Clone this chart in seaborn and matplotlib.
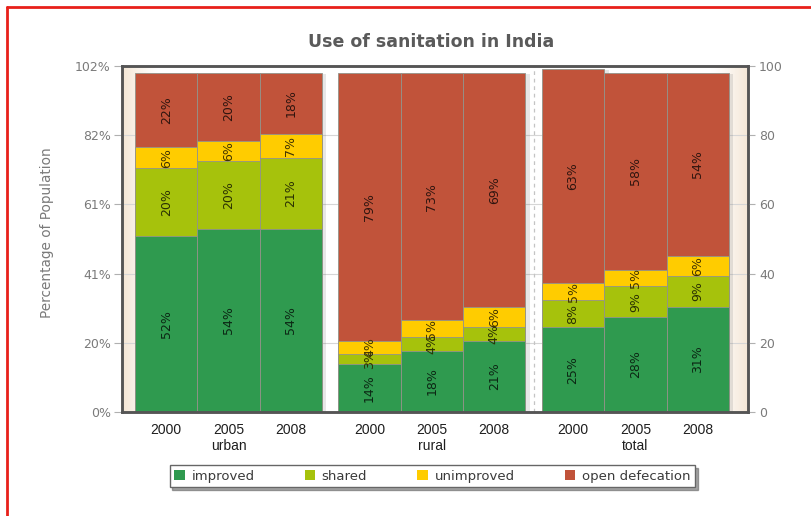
import numpy as np
import pandas as pd
import matplotlib
matplotlib.use("Agg")
import matplotlib.pyplot as plt
from matplotlib.patches import Patch
from matplotlib.lines import Line2D
from matplotlib.colors import to_rgb
import seaborn as sns

# ---- data -------------------------------------------------------------
groups = ["urban", "rural", "total"]
years = ["2000", "2005", "2008"]
improved = [52, 54, 54, 14, 18, 21, 25, 28, 31]
shared = [20, 20, 21, 3, 4, 4, 8, 9, 9]
unimproved = [6, 6, 7, 4, 5, 6, 5, 5, 6]
open_defecation = [22, 20, 18, 79, 73, 69, 63, 58, 54]

series_names = ["improved", "shared", "unimproved", "open defecation"]
series_colors = ["#2f9a4f", "#a6c20c", "#ffcc00", "#c1533a"]

left_ticks = [0, 20.4, 40.8, 61.2, 81.6, 102]
left_tick_labels = ["0%", "20%", "41%", "61%", "82%", "102%"]
right_ticks = [0, 20, 40, 60, 80, 100]

# ---- style -------------------------------------------------------------
sns.set_theme(style="white")
plt.rcParams["font.family"] = ["DejaVu Sans"]

fig = plt.figure(figsize=(8.11, 5.16), dpi=100)
ax = fig.add_axes([0.1504, 0.2016, 0.7719, 0.6705])

# bar centres: three bars per group, groups separated by a small gap
first_centre = 0.71
group_pitch = 3.266
xpos = [first_centre + g * group_pitch + i for g in range(len(groups)) for i in range(len(years))]
xmax = 10.05

values = np.array([improved, shared, unimproved, open_defecation])
tops = np.cumsum(values, axis=0)
df = pd.DataFrame({"x": xpos})
for k, name in enumerate(series_names):
    df[name] = tops[k]

# plot-area background: beige fading to white towards the centre
t = np.linspace(0, 1, 800)
w = np.clip(1 - np.minimum(t, 1 - t) / 0.06, 0, 1) ** 1.3
beige = np.array(to_rgb("#f4e6d5"))
white = np.array([1.0, 1.0, 1.0])
grad = white[None, :] * (1 - w[:, None]) + beige[None, :] * w[:, None]
ax.imshow(grad[None, :, :], extent=[0, 1, 0, 1], transform=ax.transAxes,
          aspect="auto", zorder=0, interpolation="bilinear")

# soft shadow on the right of the bars
ax.bar(np.array(xpos) + 0.07, tops[-1] + 0.3, width=1.0, bottom=-0.6,
       color="#555555", alpha=0.14, linewidth=0, zorder=1.5)

# stacked bars: draw cumulative heights from the top layer down
for k in range(len(series_names) - 1, -1, -1):
    sns.barplot(data=df, x="x", y=series_names[k], native_scale=True, width=1.0,
                color=series_colors[k], saturation=1, errorbar=None,
                edgecolor="#93938a", linewidth=0.6, ax=ax, zorder=2)

# value labels inside each segment
for k, name in enumerate(series_names):
    dark = tuple(np.array(to_rgb(series_colors[k])) * 0.25)
    for j, x in enumerate(xpos):
        v = values[k][j]
        bottom = tops[k - 1][j] if k > 0 else 0
        ax.text(x, bottom + v / 2, f"{v}%", rotation=90, ha="center", va="center",
                fontsize=9, color=dark, zorder=5)

# divider between the rural and total groups
ax.axvline((xpos[5] + 0.5 + xpos[6] - 0.5) / 2, color="#c4c4c4", lw=0.9,
           ls=(0, (3, 3)), zorder=1)

ax.set_xlim(0, xmax)
ax.set_ylim(0, 102)
ax.set_yticks(left_ticks)
ax.set_yticklabels(left_tick_labels)
ax.yaxis.grid(True, color="#d6d6d6", lw=0.8)
ax.xaxis.grid(False)
ax.set_axisbelow(True)
ax.set_xlabel("")
ax.set_ylabel("")

xt_labels = []
for g in groups:
    for i, y in enumerate(years):
        xt_labels.append(f"{y}\n{g}" if i == 1 else y)
ax.set_xticks(xpos)
ax.set_xticklabels(xt_labels, fontfamily="Liberation Sans", fontsize=10,
                   color="#1e1e1e", linespacing=1.15, va="top")
ax.tick_params(axis="x", length=0, pad=8)
ax.tick_params(axis="y", left=True, length=6, width=0.8, color="#b0b0b0",
               labelsize=9, labelcolor="#7a7a7a", pad=2)

ax2 = ax.twinx()
ax2.set_ylim(0, 100)
ax2.set_yticks(right_ticks)
ax2.set_yticklabels([str(v) for v in right_ticks])
ax2.tick_params(axis="y", right=True, length=5, width=0.8, color="#b0b0b0",
                labelsize=9, labelcolor="#7a7a7a", pad=3)
ax2.grid(False)

for a in (ax, ax2):
    for sp in a.spines.values():
        sp.set_color("#555555")
        sp.set_linewidth(1.8)
ax2.patch.set_visible(False)

# titles
fig.text(0.532, 0.918, "Use of sanitation in India", ha="center", va="center",
         fontsize=12.5, fontweight="bold", color="#5a5a5a")
fig.text(0.058, 0.549, "Percentage of Population", rotation=90, ha="center",
         va="center", fontsize=9.8, color="#7a7a7a")

# legend
handles = [Patch(facecolor=c, edgecolor="none") for c in series_colors]
leg = fig.legend(handles, series_names, loc="center", bbox_to_anchor=(0.533, 0.0775),
                 ncol=4, frameon=True, fancybox=False, shadow=True, fontsize=9.5,
                 handlelength=0.8, handleheight=0.8, handletextpad=0.5,
                 columnspacing=3.8, borderpad=0.35, labelcolor="#3a3a3a")
leg.get_frame().set_edgecolor("#666666")
leg.get_frame().set_linewidth(1.0)

# page border (left and top edges)
fig.add_artist(Line2D([0.0086, 0.0086], [0.0, 0.9864], transform=fig.transFigure,
                      color="#e8201a", lw=2))
fig.add_artist(Line2D([0.0086, 1.0], [0.9864, 0.9864], transform=fig.transFigure,
                      color="#e8201a", lw=2))

fig.savefig("out.png", dpi=100, facecolor="white")
